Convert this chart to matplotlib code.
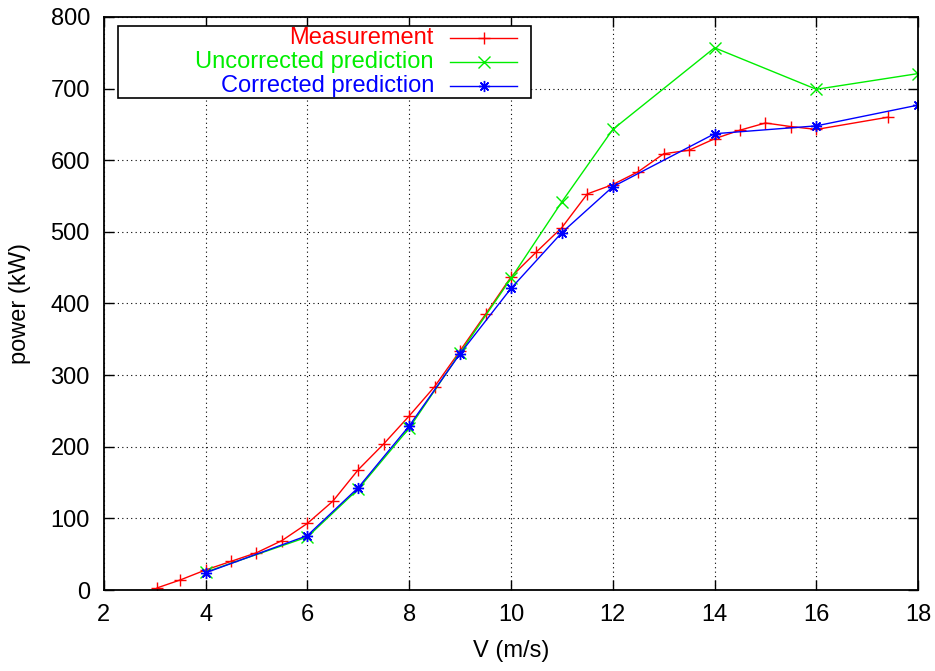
import matplotlib
matplotlib.use("Agg")
from matplotlib import pyplot as plt
from matplotlib.patches import Rectangle
import numpy as np

# Datos
# ========================================
v_meas = [3.05, 3.5, 4.0, 4.5, 5.0, 5.5, 6.0, 6.5, 7.0, 7.5, 8.0, 8.5, 9.0,
          9.5, 10.0, 10.5, 11.0, 11.5, 12.0, 12.5, 13.0, 13.5, 14.0, 14.5,
          15.0, 15.5, 16.0, 17.4]
p_meas = [3, 14, 28, 40, 52, 69, 93, 124, 168, 204, 243, 284, 334,
          385, 437, 472, 506, 553, 566, 584, 609, 614, 630, 642,
          652, 647, 643, 660]

v_pred = [4, 6, 7, 8, 9, 10, 11, 12, 14, 16, 18]
p_uncorr = [25, 74, 141, 226, 331, 435, 542, 643, 757, 699, 721]
p_corr = [24, 76, 143, 229, 330, 421, 499, 563, 637, 648, 677]

labels = ["Measurement", "Uncorrected prediction", "Corrected prediction"]
colors = ["#ff0000", "#00ee00", "#0000ff"]
markers = ["+", "x", (8, 2, 0)]

xticks = [2, 4, 6, 8, 10, 12, 14, 16, 18]
yticks = [0, 100, 200, 300, 400, 500, 600, 700, 800]

plt.rcParams["font.family"] = ["Liberation Sans", "DejaVu Sans"]
plt.rcParams["font.size"] = 17

fig = plt.figure(figsize=(9.35, 6.71), dpi=100)
ax = fig.add_axes([0.111, 0.1207, 0.871, 0.854])

series = [(v_meas, p_meas), (v_pred, p_uncorr), (v_pred, p_corr)]
for (xs, ys), c, m in zip(series, colors, markers):
    ax.plot(xs, ys, "-", color=c, marker=m, markersize=8, linewidth=1,
            markeredgewidth=1)

ax.set_xlim(2, 18)
ax.set_ylim(0, 800)
ax.set_xticks(xticks)
ax.set_yticks(yticks)
ax.grid(True, color="black", linestyle=(0, (1, 3)), linewidth=0.8)
ax.tick_params(direction="in", length=7, width=1, top=True, right=True,
               pad=10)
for s in ax.spines.values():
    s.set_linewidth(1.3)
ax.set_xlabel("V (m/s)", labelpad=10)
ax.set_ylabel("power (kW)", labelpad=14)

# Leyenda al estilo gnuplot (texto alineado a la derecha)
ax.add_patch(Rectangle((0.0176, 0.8592), 0.5074, 0.1256,
                       transform=ax.transAxes, facecolor="white",
                       edgecolor="black", linewidth=1.2, zorder=5))
rows_y = [0.9639, 0.9220, 0.8796]
for lab, c, m, yy in zip(labels, colors, markers, rows_y):
    ax.text(0.4054, yy, lab, color=c, ha="right", va="center",
            transform=ax.transAxes, zorder=6)
    ax.plot([0.4251, 0.5074], [yy, yy], "-", color=c, linewidth=1,
            transform=ax.transAxes, zorder=6, clip_on=False)
    ax.plot([0.4668], [yy], linestyle="none", color=c, marker=m,
            markersize=8, transform=ax.transAxes, zorder=6, clip_on=False)

fig.savefig("out.png", dpi=100)
